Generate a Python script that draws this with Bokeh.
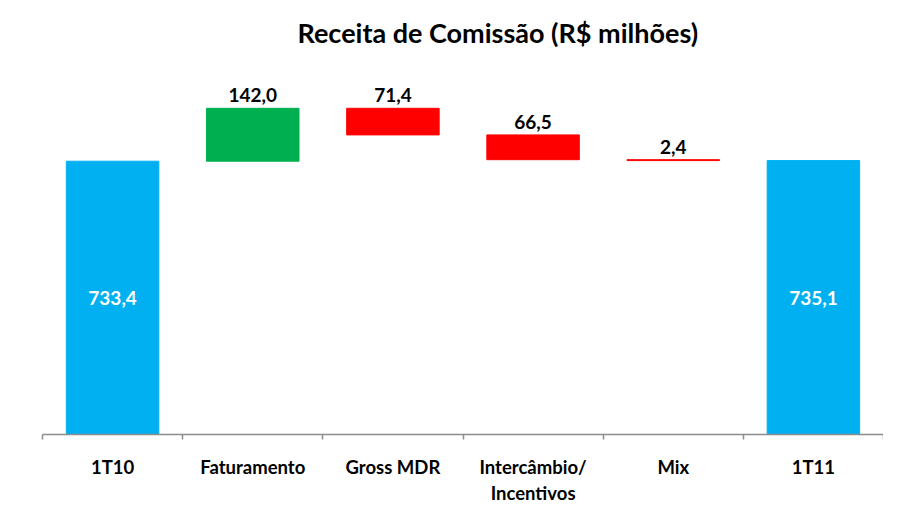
from bokeh.plotting import figure
from bokeh.models import Range1d, LinearAxis, FixedTicker, ColumnDataSource
from bokeh.embed import file_html
from bokeh.resources import INLINE
from bokeh.core.properties import value

# ---- data ----
categories = ["1T10", "Faturamento", "Gross MDR", "Intercâmbio/\nIncentivos", "Mix", "1T11"]
values = [733.4, 142.0, -71.4, -66.5, -2.4, 735.1]
kinds = ["total", "delta", "delta", "delta", "delta", "total"]
title_text = "Receita de Comissão (R$ milhões)"

BLUE = "#00B0F0"
GREEN = "#00B050"
RED = "#FF0000"

# ---- waterfall geometry from the data ----
xs = list(range(len(categories)))
bottoms, tops, colors = [], [], []
running = 0.0
for v, k in zip(values, kinds):
    if k == "total":
        b, t = 0.0, v
        running = v
        colors.append(BLUE)
    else:
        b, t = running, running + v
        running += v
        colors.append(GREEN if v >= 0 else RED)
    bottoms.append(b)
    tops.append(t)

texts = [f"{abs(v):.1f}".replace(".", ",") for v in values]

bars = ColumnDataSource(dict(x=xs, bottom=bottoms, top=tops, color=colors))

d_idx = [i for i, k in enumerate(kinds) if k == "delta"]
t_idx = [i for i, k in enumerate(kinds) if k == "total"]
delta_lbl = ColumnDataSource(dict(
    x=[xs[i] for i in d_idx],
    y=[max(bottoms[i], tops[i]) for i in d_idx],
    text=[texts[i] for i in d_idx],
))
total_lbl = ColumnDataSource(dict(
    x=[xs[i] for i in t_idx],
    y=[tops[i] / 2 for i in t_idx],
    text=[texts[i] for i in t_idx],
))

p = figure(
    width=883, height=514,
    x_range=Range1d(-0.5, len(categories) - 0.5),
    y_range=Range1d(0, 1001),
    x_axis_location=None, y_axis_location=None,
    toolbar_location=None, output_backend="svg",
    min_border_left=42, min_border_right=0, min_border_top=60, min_border_bottom=80,
)
p.xgrid.visible = False
p.ygrid.visible = False
p.outline_line_color = None

p.title.text = title_text
p.title.text_font = "Lato"
p.title.text_font_size = "27px"
p.title.text_font_style = "bold"
p.title.text_color = "#000000"
p.title.align = "left"
p.title.offset = 255
p.title.standoff = 26

p.vbar(x="x", bottom="bottom", top="top", width=0.66, fill_color="color",
       line_color="color", line_width=1, source=bars)

p.text(x="x", y="y", text="text", source=delta_lbl, text_font=value("Lato"),
       text_font_style="bold", text_font_size="19px", text_color="#000000",
       text_align="center", text_baseline="bottom", y_offset=-6)
p.text(x="x", y="y", text="text", source=total_lbl, text_font=value("Lato"),
       text_font_style="bold", text_font_size="19px", text_color="#FFFFFF",
       text_align="center", text_baseline="middle")

# one axis: labels at category centres, Excel-style ticks between categories
cat_axis = LinearAxis(
    ticker=FixedTicker(ticks=xs, minor_ticks=[i - 0.5 for i in range(len(categories) + 1)]),
    major_label_overrides={i: c for i, c in zip(xs, categories)},
    axis_line_color="#8c8c8c", axis_line_width=1.5,
    major_tick_line_color=None,
    minor_tick_line_color="#8c8c8c", minor_tick_line_width=1.5,
    minor_tick_in=0, minor_tick_out=5,
    major_label_text_font="Lato", major_label_text_font_style="bold",
    major_label_text_font_size="18.5px", major_label_text_color="#000000",
    major_label_standoff=15,
)
p.add_layout(cat_axis, "below")

open("out.html", "w").write(file_html(p, INLINE))
